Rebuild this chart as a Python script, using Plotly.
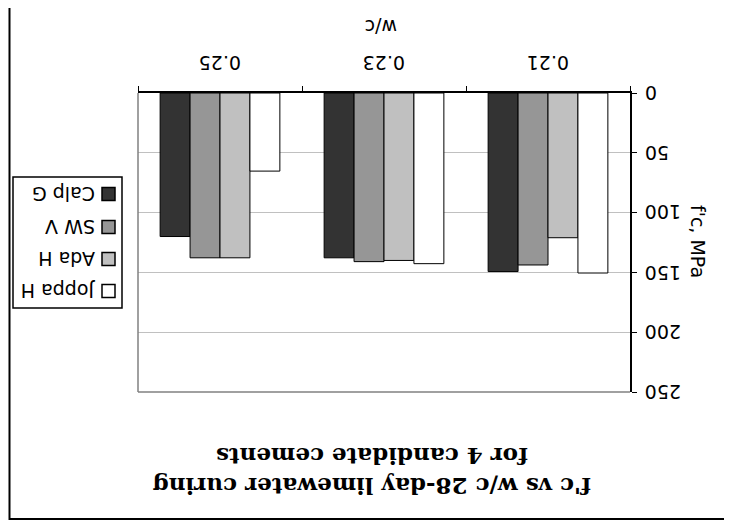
import plotly.graph_objects as go

categories = ["0.25", "0.23", "0.21"]
series_names = ["Calp G", "SW V", "Ada H", "Joppa H"]
calp_g = [120, 137.8, 149.3]
sw_v = [137.8, 141, 143.8]
ada_h = [137.8, 140, 121]
joppa_h = [65.3, 142.7, 150.5]
series_values = [calp_g, sw_v, ada_h, joppa_h]
colors = ["#333333", "#969696", "#c0c0c0", "#ffffff"]
y_ticks = [0, 50, 100, 150, 200, 250]
y_tick_labels = ["0", "50", "100", "150", "200", "250"]
title_lines = ["f'c vs w/c 28-day limewater curing", "for 4 candidate cements"]

# reference plot-area edges (screen px); page body adds an 8px offset
L0, R0, T0, B0 = 138, 630, 93, 392
OFF = 8
W, H = 732, 530
PW, PH = R0 - L0, B0 - T0

def px(x):
    return (x - L0) / PW

def py(y):
    return (B0 - y) / PH

fig = go.Figure()
for name, vals, col in zip(series_names, series_values, colors):
    fig.add_trace(go.Bar(x=categories, y=vals, name=name,
                         marker=dict(color=col, line=dict(color="black", width=1)),
                         showlegend=False))

fig.update_layout(
    width=W, height=H,
    margin=dict(l=L0 - OFF, r=W - (R0 - OFF), t=T0 - OFF, b=H - (B0 - OFF)),
    paper_bgcolor="white", plot_bgcolor="white",
    barmode="group", bargap=0.27, bargroupgap=0,
    xaxis=dict(side="top", type="category", categoryorder="array", categoryarray=categories,
               showline=True, linecolor="black", linewidth=1.5, ticks="outside", ticklen=5,
               tickcolor="black", tickson="boundaries", showticklabels=False,
               showgrid=False, automargin=False),
    yaxis=dict(side="right", range=[250, 0], tickvals=y_ticks, showline=True, linecolor="black",
               linewidth=1.5, ticks="outside", ticklen=5, tickcolor="black",
               showticklabels=False, showgrid=True, gridcolor="#c0c0c0",
               gridwidth=1, zeroline=False, automargin=False),
)

shapes = []
shapes.append(dict(type="line", xref="paper", yref="paper", x0=0, x1=0, y0=0, y1=1,
                   line=dict(color="#808080", width=1.5)))
shapes.append(dict(type="line", xref="paper", yref="paper", x0=0, x1=1, y0=0, y1=0,
                   line=dict(color="#808080", width=1.5)))
shapes.append(dict(type="rect", xref="paper", yref="paper", x0=px(9.5), x1=px(780), y0=py(519),
                   y1=py(-40), line=dict(color="black", width=2)))
shapes.append(dict(type="rect", xref="paper", yref="paper", x0=px(13), x1=px(122), y0=py(308),
                   y1=py(177), line=dict(color="black", width=1.5), fillcolor="white", layer="above"))

annotations = []
tickfont = dict(family="DejaVu Sans", size=19, color="black")
for i, c in enumerate(categories):
    annotations.append(dict(text=c, xref="x", yref="paper", x=i, y=py(63), xanchor="center",
                            yanchor="middle", showarrow=False, textangle=180, font=tickfont))
for v, t in zip(y_ticks, y_tick_labels):
    annotations.append(dict(text=t, xref="paper", yref="y", x=px(643), y=v, xanchor="left",
                            yanchor="middle", showarrow=False, textangle=180, font=tickfont))

legend_y = [194, 227, 259, 291]
for name, col, yc in zip(series_names, colors, legend_y):
    shapes.append(dict(type="rect", xref="paper", yref="paper", x0=px(102), x1=px(115),
                       y0=py(yc + 6.5), y1=py(yc - 6.5), line=dict(color="black", width=1.5),
                       fillcolor=col, layer="above"))
    annotations.append(dict(text=name, xref="paper", yref="paper", x=px(97), y=py(yc),
                            xanchor="right", yanchor="middle", showarrow=False, textangle=180,
                            font=dict(family="DejaVu Sans", size=19, color="black")))

for line, yc in zip(title_lines, [487, 457]):
    annotations.append(dict(text="<b>" + line + "</b>", xref="paper", yref="paper", x=px(372),
                            y=py(yc), xanchor="center", yanchor="middle", showarrow=False,
                            textangle=180,
                            font=dict(family="DejaVu Serif", size=23, color="black")))
annotations.append(dict(text="w/c", xref="paper", yref="paper", x=px(381), y=py(27),
                        xanchor="center", yanchor="middle", showarrow=False, textangle=180,
                        font=dict(family="DejaVu Sans", size=19, color="black")))
annotations.append(dict(text="f'c, MPa", xref="paper", yref="paper", x=px(698), y=py(241),
                        xanchor="center", yanchor="middle", showarrow=False, textangle=90,
                        font=dict(family="DejaVu Sans", size=19, color="black")))

fig.update_layout(shapes=shapes, annotations=annotations)
fig.write_html("out.html")
